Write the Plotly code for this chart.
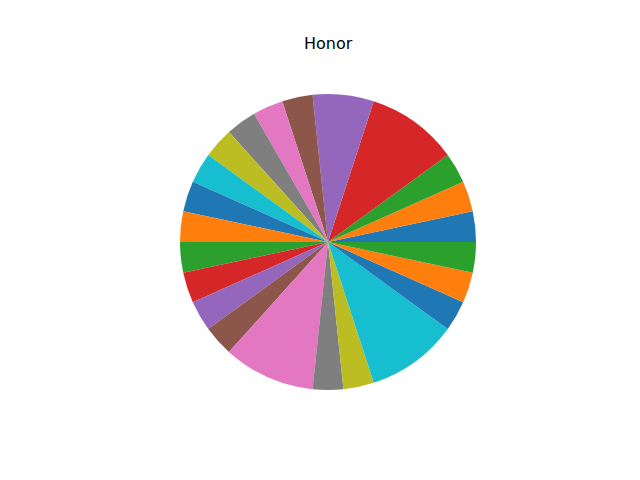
import plotly.graph_objects as go

labels = [f"S{i+1}" for i in range(23)]
values = [1, 1, 1, 3, 2, 1, 1, 1, 1, 1, 1, 1, 1, 1, 1, 1, 3, 1, 1, 3, 1, 1, 1]
tab10 = ["#1f77b4", "#ff7f0e", "#2ca02c", "#d62728", "#9467bd",
         "#8c564b", "#e377c2", "#7f7f7f", "#bcbd22", "#17becf"]
colors = [tab10[i % 10] for i in range(len(values))]

W, H = 640, 480
cx, cy, r = 328, 242, 148

fig = go.Figure(go.Pie(
    labels=labels, values=values, sort=False,
    direction="counterclockwise", rotation=78,
    marker=dict(colors=colors, line=dict(width=0)),
    textinfo="none", showlegend=False,
    domain=dict(x=[(cx - r) / W, (cx + r) / W],
                y=[(H - (cy + r)) / H, (H - (cy - r)) / H]),
))
fig.update_layout(
    width=W, height=H, margin=dict(l=0, r=0, t=0, b=0),
    paper_bgcolor="white", plot_bgcolor="white",
    annotations=[dict(text="Honor", x=cx / W, y=(H - 43) / H,
                      xref="paper", yref="paper", showarrow=False,
                      xanchor="center", yanchor="middle",
                      font=dict(family="DejaVu Sans", size=16, color="black"))],
)
fig.write_html("out.html", config={"displayModeBar": False},
               post_script="document.body.style.margin='0';")
